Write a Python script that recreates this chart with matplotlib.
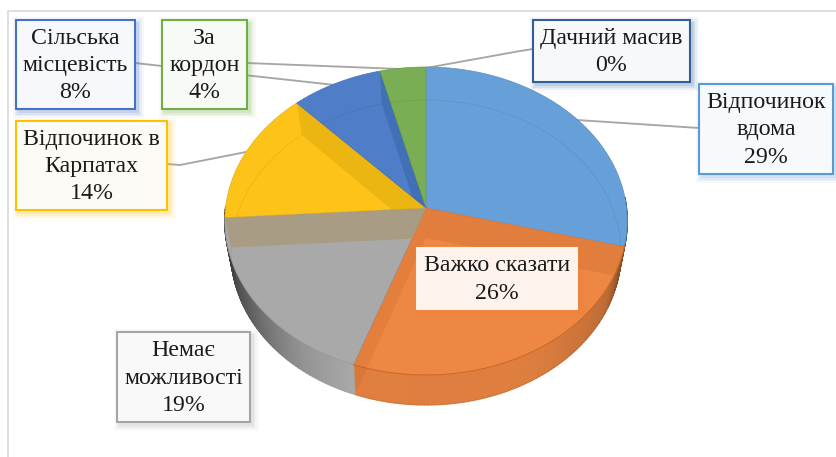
import numpy as np
import matplotlib
matplotlib.use("Agg")
import matplotlib.pyplot as plt
from matplotlib.patches import Polygon, Rectangle
from matplotlib.collections import PolyCollection

categories = ["Відпочинок\nвдома", "Важко сказати", "Немає\nможливості",
              "Відпочинок в\nКарпатах", "Сільська\nмісцевість", "За\nкордон", "Дачний масив"]
values = [29.0, 26.4, 18.6, 14.0, 8.0, 4.0, 0.0]
colors = ["#679fd8", "#ee8744", "#a9a9a9", "#fec318", "#4f7dc7", "#79ae54", "#2e6097"]
edges = ["#5b9bd5", "#ed7d31", "#a5a5a5", "#ffc000", "#4472c4", "#70ad47", "#2e6097"]
fills = ["#f7fafd", "#fdf2ec", "#f9f9f9", "#fcfbf6", "#f6f8fc", "#f8faf6", "#f6f8fa"]
boxes = [(699, 84, 833, 174), (417, 248, 577, 309), (117, 332, 250, 422),
         (16, 121, 167, 210), (16, 20, 135, 109), (162, 20, 247, 109), (533, 20, 690, 82)]
leaders = [[(699, 128), (577, 120)], None, None,
           [(167, 164), (180, 165), (246, 152)],
           [(135, 63), (162, 66), (335, 85)],
           [(247, 63), (400, 69), (430, 68)],
           [(533, 49), (520, 51), (426, 68)]]

plt.rcParams["font.family"] = ["Liberation Serif", "DejaVu Serif"]
fig = plt.figure(figsize=(8.37, 4.57), dpi=100)
ax = fig.add_axes([0, 0, 1, 1])
ax.set_xlim(0, 837)
ax.set_ylim(457, 0)
ax.axis("off")

ax.plot([8, 8, 837], [457, 11, 11], color="#d9d9d9", lw=1.2, zorder=1)


def proj(deg, cx, cy, rx, ry, k):
    t = np.radians(deg)
    c, s = np.cos(t), np.sin(t)
    d = 1 + k * s
    return np.column_stack([cx + rx * c / d, cy - ry * s / d])


TOP = (426, 208, 200.5, 152.9, 0.0844)
BOT = (426, 238, 194, 151.0, 0.0951)

cum = np.concatenate([[0], np.cumsum(values)])
angles = 90 - 3.6 * cum

for pts in leaders:
    if pts:
        xs, ys = zip(*pts)
        ax.plot(xs, ys, color="#a6a6a6", lw=1.35, zorder=2)

# outer rim
shade_a = [-180, -176, -150, -125, -109.5, -109.4, -60, -30, -14, 0]
shade_v = [0.25, 0.30, 0.55, 0.88, 1.0, 0.94, 0.93, 0.80, 0.50, 0.50]
quads, qcols = [], []
for i in range(len(values)):
    a0, a1 = angles[i], angles[i + 1]
    if a0 == a1:
        continue
    for a in np.arange(a0, a1, -1.0):
        b = max(a - 1.0, a1)
        nrm = ((a + 180) % 360) - 180
        if not (-185 < nrm < 5):
            continue
        q = np.vstack([proj(np.array([a, b]), *TOP), proj(np.array([b, a]), *BOT)])
        quads.append(q)
        m = ((a - 0.5 + 180) % 360) - 180
        sh = np.interp(m, shade_a, shade_v)
        qcols.append(np.array(matplotlib.colors.to_rgb(colors[i])) * sh)
ax.add_collection(PolyCollection(quads, facecolors=qcols, edgecolors=qcols, linewidths=1.0, zorder=3))

# top faces
faces = []
for i in range(len(values)):
    if values[i] == 0:
        faces.append(None)
        continue
    a = np.linspace(angles[i], angles[i + 1], 100)
    pts = np.vstack([[TOP[0], TOP[1]], proj(a, *TOP)])
    p = Polygon(pts, closed=True, facecolor=colors[i], edgecolor=np.array(matplotlib.colors.to_rgb(colors[i])) * 0.9,
                linewidth=0.5, zorder=4)
    ax.add_patch(p)
    faces.append(p)

# inner walls seen through the translucent faces
walls = [(0, None, "#a8551a", 0.16), (1, None, "#b04d10", 0.15), (2, 2, "#a89a78", 0.75),
         (3, 3, "#b08a00", 0.22), (4, 4, "#20508a", 0.28)]
for idx, host, col, al in walls:
    ang = angles[idx + 1]
    top_pt = proj(np.array([ang]), *TOP)[0]
    bot_pt = proj(np.array([ang]), *BOT)[0]
    w = Polygon([(TOP[0], TOP[1]), top_pt, bot_pt, (BOT[0], BOT[1])], closed=True,
                facecolor=col, edgecolor="none", alpha=al, zorder=5)
    ax.add_patch(w)
    if host is not None:
        w.set_clip_path(faces[host])

# base disc seen through the faces
for i in range(len(values)):
    if values[i] == 0:
        continue
    a = np.linspace(angles[i], angles[i + 1], 100)
    pts = proj(a, *BOT)
    ln, = ax.plot(pts[:, 0], pts[:, 1], color="black", alpha=0.05, lw=0.8, zorder=6)
    if i != 1:
        ln.set_clip_path(faces[i])

# front rim line of the top face
a = np.linspace(angles[1], angles[2], 100)
pts = proj(a, *TOP)
ax.plot(pts[:, 0], pts[:, 1], color="#c4601f", alpha=0.6, lw=0.8, zorder=6)

# labels
order = [0, 1, 2, 3, 5, 4, 6]
for i in order:
    x0, y0, x1, y1 = boxes[i]
    for g, al in zip([6, 4, 2.5, 1], [0.05, 0.07, 0.09, 0.12]):
        ax.add_patch(Rectangle((x0 + 3 - g, y0 + 3 - g), x1 - x0 + 2 * g, y1 - y0 + 2 * g,
                               facecolor=edges[i], edgecolor="none", alpha=al, zorder=7))
    ax.add_patch(Rectangle((x0, y0), x1 - x0, y1 - y0, facecolor=fills[i],
                           edgecolor=edges[i] if i != 1 else fills[i], linewidth=1.5, zorder=8))
    ax.text((x0 + x1) / 2, (y0 + y1) / 2 + 1,
            f"{categories[i]}\n{round(values[i])}%", ha="center", va="center", ma="center",
            fontsize=17.2, linespacing=1.4, color="#1a1a1a", zorder=9)

fig.savefig("out.png", dpi=100, facecolor="white")
